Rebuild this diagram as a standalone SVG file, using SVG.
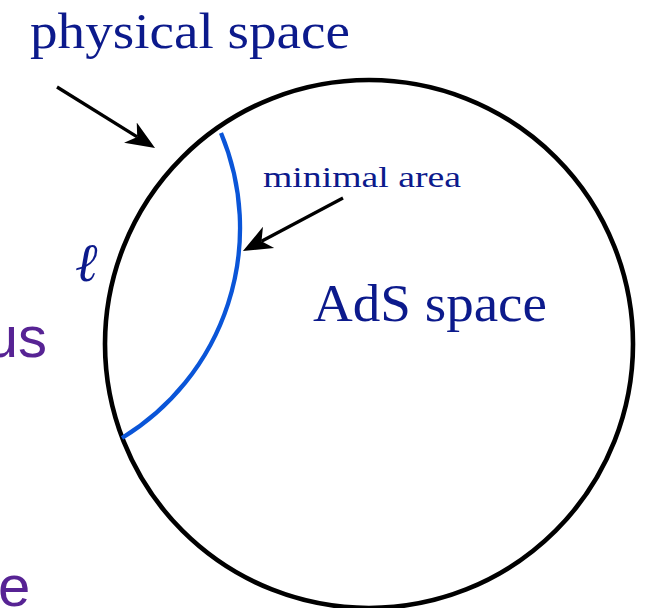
<svg xmlns="http://www.w3.org/2000/svg" width="652" height="608" viewBox="0 0 652 608">
<style>
.lbl{font-family:"Liberation Serif","Times New Roman",serif;fill:#0c1a8c}
.side{font-family:"Liberation Sans",Arial,sans-serif;fill:#572394;font-size:58px}
.arr{stroke:#000;stroke-width:3.3;fill:none;marker-end:url(#head)}
</style>
<defs>
<marker id="head" markerUnits="userSpaceOnUse" markerWidth="32" markerHeight="28" refX="8" refY="0" viewBox="0 -14 32 28" orient="auto">
<path d="M29,0 L0,-12 L8,0 L0,12 Z" fill="#000"/>
</marker>
</defs>
<g id="ads-circle">
<circle cx="369" cy="344" r="264" fill="none" stroke="#000" stroke-width="4.6"/>
</g>
<g id="geodesic">
<path d="M221,133 A246,246 0 0 1 122,438" fill="none" stroke="#0a55d8" stroke-width="4.3"/>
</g>
<g id="connectors">
<line class="arr" x1="57" y1="87" x2="137.2" y2="136.9"/>
<line class="arr" x1="343" y1="198" x2="261.5" y2="241.2"/>
</g>
<g id="label-physical">
<text class="lbl" x="30" y="48" font-size="50" textLength="320" lengthAdjust="spacingAndGlyphs">physical space</text>
</g>
<g id="label-minimal">
<text class="lbl" x="263" y="187" font-size="30" textLength="198" lengthAdjust="spacingAndGlyphs">minimal area</text>
</g>
<g id="label-ads">
<text class="lbl" x="313" y="321" font-size="52" textLength="234" lengthAdjust="spacingAndGlyphs">AdS space</text>
</g>
<g id="label-ell">
<text class="lbl" x="75" y="281" font-size="54" font-style="italic">ℓ</text>
</g>
<g id="side-us">
<text class="side" x="47" y="357" text-anchor="end">us</text>
</g>
<g id="side-e">
<text class="side" x="-2" y="606">e</text>
</g>
</svg>
